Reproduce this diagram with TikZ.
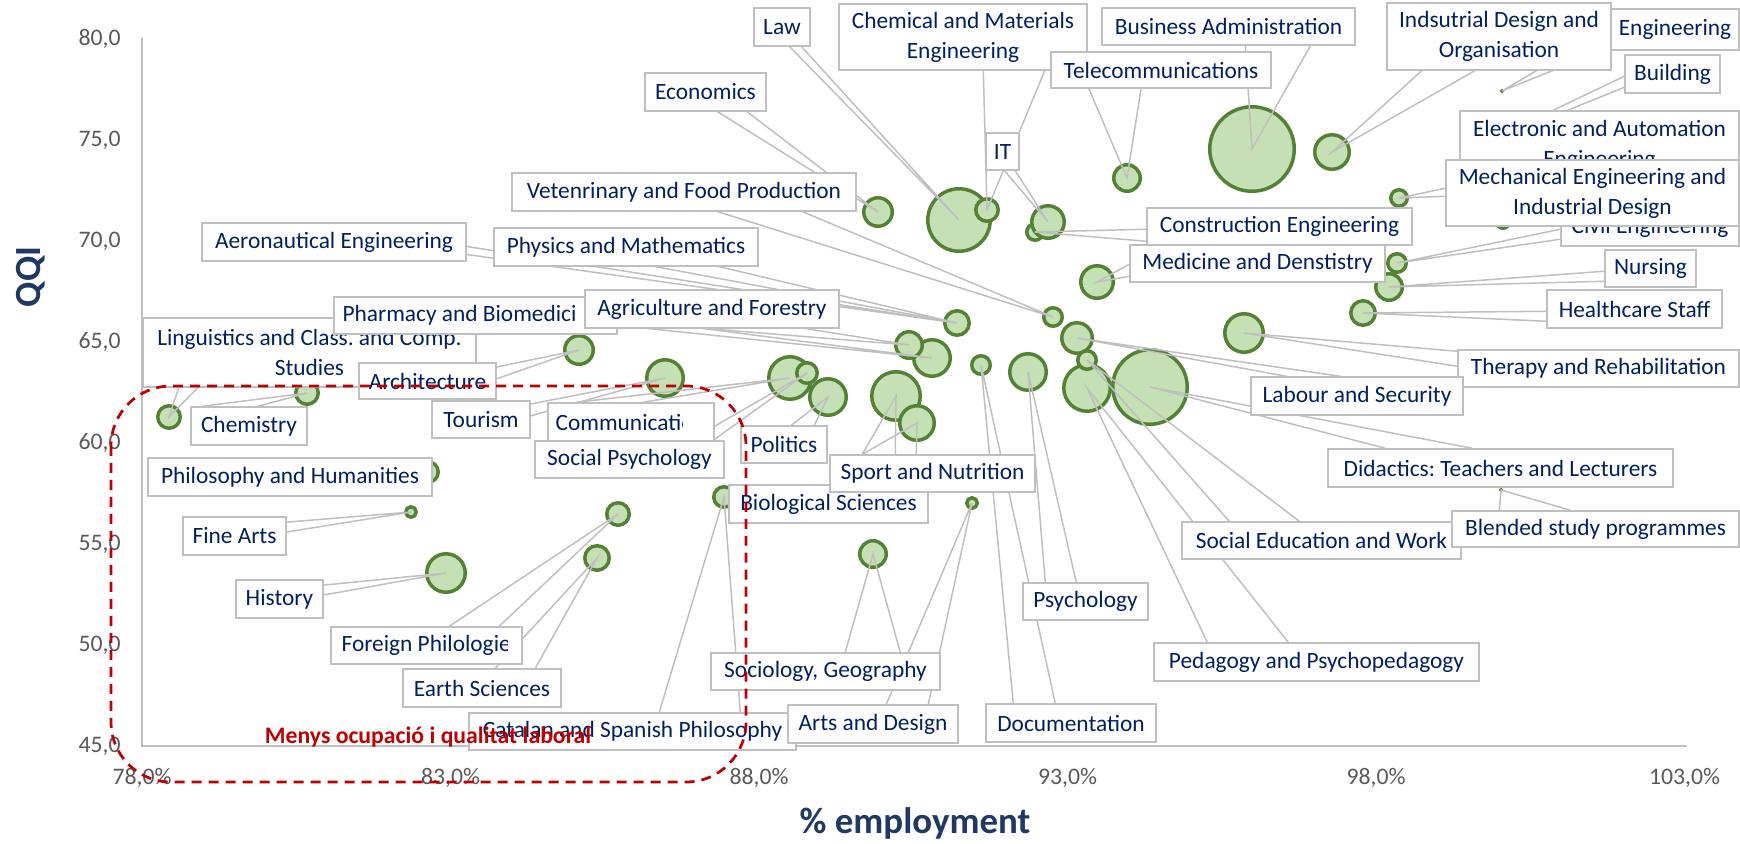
\documentclass[tikz,border=0pt]{standalone}
\usepackage{fontspec}
\setmainfont{Carlito}
\usetikzlibrary{calc}
\definecolor{bubfill}{RGB}{197,224,180}
\definecolor{bubline}{RGB}{84,130,53}
\definecolor{leadgray}{RGB}{191,191,191}
\definecolor{labtext}{RGB}{0,32,96}
\definecolor{tickgray}{RGB}{89,89,89}
\definecolor{titleblue}{RGB}{31,56,100}
\definecolor{darkred}{RGB}{192,0,0}
\pgfdeclarelayer{bubbles}
\pgfdeclarelayer{leaders}
\pgfsetlayers{bubbles,leaders,main}
\frenchspacing
\newcommand\labfont{\fontsize{13.3}{17}\selectfont}
\newcommand\labinsetL{6}
\newcommand\labinsetR{6}
\newcommand\labanchor{center}
\newcommand\labshift{0}
\tikzset{
    bub/.style={circle,draw=bubline,fill=bubfill,line width=0.07cm,inner sep=0pt},
    labbox/.style={draw=leadgray,fill=white,line width=0.03cm,inner sep=0pt},
    labtxt/.style={text=labtext,font=\labfont,align=center,inner sep=0pt},
    leader/.style={draw=leadgray,line width=0.03cm},
    axisline/.style={draw=leadgray,line width=0.035cm},
    ticklab/.style={text=tickgray,font=\fontsize{13.5}{16}\selectfont,inner sep=0pt},
    axistitle/.style={text=titleblue,font=\bfseries\fontsize{21}{25}\selectfont,inner sep=0pt},
    zone/.style={draw=darkred,line width=0.055cm,dash pattern=on 0.2cm off 0.14cm,rounded corners=1.2cm}
}
\newcommand\Bubble[5][]{% name, x, y, outer radius
    \begin{pgfonlayer}{bubbles}
        \node[bub,#1,minimum size={(2*#5-3.5)*0.02cm}] (#2) at (#3,#4) {};
    \end{pgfonlayer}
}
\newcommand\Callout[6]{% name, x1, y1, x2, y2, text
    \node[labbox,minimum width={(#4-#2)*0.02cm},minimum height={(#5-#3)*0.02cm}] (#1) at ({(#2+#4)/2},{(#3+#5)/2}) {};
    \begin{scope}
        \clip ($(#1.north west)+(\labinsetL,2)$) rectangle ($(#1.south east)-(\labinsetR,2)$);
        \node[labtxt,anchor=\labanchor] (#1Txt) at ($(#1.\labanchor)+(\labshift,0)$) {#6};
    \end{scope}
}
% text too long for its box: starts at the left, cut on the right
\newcommand\CutCallout[8]{% right inset, left shift, name, x1, y1, x2, y2, text
    \begingroup
    \renewcommand\labinsetR{#1}\renewcommand\labshift{#2}\renewcommand\labanchor{west}
    \Callout{#3}{#4}{#5}{#6}{#7}{#8}
    \endgroup
}
\newcommand\Leader[4]{% callout, bubble, base points from the callout's top left corner
    \begin{pgfonlayer}{leaders}
        \draw[leader] ($(#1.north west)+(#3)$) -- (#2.center) -- ($(#1.north west)+(#4)$);
    \end{pgfonlayer}
}

\begin{document}
\begin{tikzpicture}[x=0.02cm,y=-0.02cm]
    \useasboundingbox (0,0) rectangle (1740,843);
    % axes
    \coordinate (AxisTop) at (142,38);
    \coordinate (Origin) at (142,746);
    \coordinate (AxisEnd) at (1687,746);
    \begin{pgfonlayer}{bubbles}
        \draw[axisline] (AxisTop) -- (Origin) -- (AxisEnd);
    \end{pgfonlayer}
    \foreach \v in {45,50,...,80}
        \node[ticklab,anchor=east] (Y\v) at (121,{746-(\v-45)*20.2}) {\v,0};
    \foreach \v in {78,83,...,103}
        \node[ticklab] (X\v) at ({142+(\v-78)*61.7},778) {\v,0\%};
    \node[axistitle,rotate=90] (QQI) at (31,277) {QQI};
    \node[axistitle] (Employment) at (915,823) {\% employment};

    % bubbles
    \Bubble{LingPt}{169}{417}{13}
    \Bubble{ChemPt}{307}{393}{13}
    \Bubble{ArchPt}{579}{350}{16}
    \Bubble{TourPt}{665}{378}{20}
    \Bubble{PhilPt}{428}{472}{12}
    \Bubble{FinePt}{411}{512}{7}
    \Bubble{HistPt}{446}{573}{21}
    \Bubble{ForgPt}{618}{514}{13}
    \Bubble{EarthPt}{597}{558}{14}
    \Bubble{CatPt}{724}{497}{12}
    \Bubble{CommPt}{790}{378}{23}
    \Bubble{SocPsyPt}{807}{373}{12}
    \Bubble{PolPt}{828}{397}{20}
    \Bubble{SportPt}{896}{396}{26}
    \Bubble{NutrPt}{917}{423}{19}
    \Bubble{SociolPt}{873}{554}{15}
    \Bubble{ArtsPt}{972}{503}{7}
    \Bubble{DocPt}{981}{365}{11}
    \Bubble{PsyPt}{1028}{372}{20}
    \Bubble{PharmPt}{932}{358}{20}
    \Bubble{AgriPt}{909}{345}{15}
    \Bubble{PhysPt}{957}{323}{14}
    \Bubble{VetPt}{1053}{317}{11}
    \Bubble{LabPt}{1077}{338}{17}
    \Bubble{PedPt}{1087}{388}{25}
    \Bubble{SocEduPt}{1087}{360}{11}
    \Bubble{DidPt}{1150}{387}{39}
    \Bubble{MedPt}{1097}{282}{18}
    \Bubble{ConsPt}{1035}{232}{10}
    \Bubble{ITPt}{1048}{222}{18}
    \Bubble{LawPt}{959}{220}{33}
    \Bubble{ChemMatPt}{987}{210}{13}
    \Bubble{EconPt}{878}{212}{16}
    \Bubble{TelePt}{1127}{178}{15}
    \Bubble{BusPt}{1252}{149}{44}
    \Bubble{IndPt}{1332}{152}{19}
    \Bubble[line width=0.03cm]{EngPt}{1502}{91}{3}
    \Bubble{MechPt}{1399}{198}{10}
    \Bubble{ElecPt}{1503}{222}{8}
    \Bubble{BuildPt}{1470}{150}{5}
    \Bubble{CivilPt}{1397}{263}{11}
    \Bubble{NursPt}{1389}{287}{15}
    \Bubble{HealthPt}{1363}{313}{14}
    \Bubble{TherPt}{1244}{333}{21}
    \Bubble[line width=0.03cm]{BlendPt}{1501}{490}{3}

    % callouts, later ones cover earlier ones
    \Callout{Law}{754}{8}{810}{46}{Law}
    \Callout{ChemMat}{839}{4}{1087}{70}{Chemical and Materials\\Engineering}
    \Callout{Business}{1102}{8}{1355}{45}{Business Administration}
    \Callout{Engineering}{1611}{9}{1739}{50}{Engineering}
    \Callout{IndDesign}{1387}{3}{1611}{70}{Indsutrial Design and\\Organisation}
    \Callout{Economics}{645}{73}{766}{111}{Economics}
    \Callout{Telecom}{1051}{52}{1271}{88}{Telecommunications}
    \Callout{Building}{1625}{55}{1720}{93}{Building}
    \Callout{IT}{986}{133}{1019}{170}{IT}
    \Callout{Electronic}{1460}{111}{1739}{180}{Electronic and Automation\\Engineering}
    \Callout{Veterinary}{512}{173}{856}{211}{Vetenrinary and Food Production}
    \Callout{Civil}{1561}{208}{1739}{246}{Civil Engineering}
    \Callout{Mechanical}{1446}{160}{1739}{226}{Mechanical Engineering and\\Industrial Design}
    \Callout{Construction}{1147}{208}{1412}{245}{Construction Engineering}
    \Callout{Aeronautical}{202}{223}{466}{261}{Aeronautical Engineering}
    \Callout{Physics}{494}{228}{758}{266}{Physics and Mathematics}
    \Callout{Medicine}{1130}{245}{1385}{282}{Medicine and Denstistry}
    \Callout{Nursing}{1605}{250}{1696}{287}{Nursing}
    \Callout{Linguistics}{143}{318}{476}{387}{Linguistics and Class. and Comp.\\Studies}
    \CutCallout{42}{9}{Pharmacy}{334}{297}{617}{334}{Pharmacy and Biomedicine}
    \Callout{Agriculture}{585}{290}{839}{328}{Agriculture and Forestry}
    \Callout{Healthcare}{1547}{290}{1722}{328}{Healthcare Staff}
    \Callout{Therapy}{1458}{350}{1739}{387}{Therapy and Rehabilitation}
    \Callout{Architecture}{359}{363}{496}{399}{Architecture}
    \Callout{Chemistry}{191}{407}{307}{445}{Chemistry}
    \Callout{Labour}{1251}{377}{1463}{415}{Labour and Security}
    \Callout{Tourism}{432}{401}{530}{438}{Tourism}
    \CutCallout{32}{8}{Communication}{548}{403}{714}{441}{Communication}
    \Callout{SocPsych}{535}{441}{724}{478}{Social Psychology}
    \Callout{Politics}{741}{426}{827}{463}{Politics}
    \Callout{Philosophy}{148}{458}{432}{496}{Philosophy and Humanities}
    \Callout{Biological}{729}{485}{928}{523}{Biological Sciences}
    \Callout{Sport}{830}{455}{1035}{492}{Sport and Nutrition}
    \Callout{Didactics}{1328}{449}{1673}{487}{Didactics: Teachers and Lecturers}
    \Callout{FineArts}{183}{517}{286}{555}{Fine Arts}
    \Callout{SocEdu}{1182}{522}{1461}{559}{Social Education and Work}
    \Callout{Blended}{1452}{511}{1739}{547}{Blended study programmes}
    \Callout{History}{236}{580}{323}{618}{History}
    \Callout{Psychology}{1023}{583}{1148}{620}{Psychology}
    \CutCallout{15}{11}{Foreign}{331}{627}{522}{664}{Foreign Philologies}
    \Callout{Sociology}{711}{653}{940}{690}{Sociology, Geography}
    \Callout{Earth}{403}{669}{561}{707}{Earth Sciences}
    \Callout{Pedagogy}{1154}{643}{1479}{681}{Pedagogy and Psychopedagogy}
    \Callout{Catalan}{469}{713}{796}{750}{Catalan and Spanish Philosophy}
    \Callout{Arts}{788}{705}{958}{743}{Arts and Design}
    \Callout{Documentation}{986}{704}{1156}{742}{Documentation}

    % leaders
    \Leader{Law}{LawPt}{35,38}{47,38}
    \Leader{ChemMat}{ChemMatPt}{145,66}{207,66}
    \Leader{Business}{BusPt}{144,37}{210,37}
    \Leader{IndDesign}{IndPt}{37,67}{91,67}
    \Leader{Engineering}{EngPt}{0,19}{0,39}
    \Leader{Economics}{EconPt}{71,38}{101,38}
    \Leader{Telecom}{TelePt}{38,36}{91,36}
    \Leader{Building}{BuildPt}{0,22}{0,33}
    \Leader{IT}{ITPt}{18,37}{29,37}
    \Leader{Electronic}{ElecPt}{30,69}{60,69}
    \Leader{Veterinary}{VetPt}{202,38}{288,38}
    \Leader{Mechanical}{MechPt}{0,29}{0,37}
    \Leader{Construction}{ConsPt}{0,22}{0,34}
    \Leader{Civil}{CivilPt}{0,22}{0,32}
    \Leader{Aeronautical}{PhysPt}{264,24}{264,32}
    \Leader{Physics}{PhysPt}{155,38}{220,38}
    \Leader{Medicine}{MedPt}{0,20}{0,32}
    \Leader{Nursing}{NursPt}{0,22}{0,32}
    \Leader{Pharmacy}{PharmPt}{283,21}{283,29}
    \Leader{Agriculture}{AgriPt}{106,38}{213,38}
    \Leader{Healthcare}{HealthPt}{0,22}{0,32}
    \Leader{Linguistics}{LingPt}{37,69}{57,69}
    \Leader{Therapy}{TherPt}{0,2}{0,17}
    \Leader{Architecture}{ArchPt}{137,5}{137,17}
    \Leader{Chemistry}{ChemPt}{12,0}{68,0}
    \Leader{Labour}{LabPt}{36,0}{90,0}
    \Leader{Tourism}{TourPt}{98,4}{98,16}
    \Leader{Communication}{CommPt}{29,0}{96,0}
    \Leader{SocPsych}{SocPsyPt}{156,0}{179,0}
    \Leader{Politics}{PolPt}{51,0}{74,0}
    \Leader{Philosophy}{PhilPt}{284,10}{284,20}
    \Leader{Sport}{SportPt}{33,0}{66,0}
    \Leader{Sport}{NutrPt}{33,0}{87,0}
    \Leader{Didactics}{DidPt}{58,0}{145,0}
    \Leader{FineArts}{FinePt}{103,6}{103,16}
    \Leader{SocEdu}{SocEduPt}{48,0}{118,0}
    \Leader{Blended}{BlendPt}{48,0}{119,0}
    \Leader{History}{HistPt}{87,6}{87,16}
    \Leader{Psychology}{PsyPt}{23,0}{54,0}
    \Leader{Foreign}{ForgPt}{119,0}{169,0}
    \Leader{Sociology}{SociolPt}{135,0}{190,0}
    \Leader{Earth}{EarthPt}{93,0}{133,0}
    \Leader{Pedagogy}{PedPt}{54,0}{135,0}
    \Leader{Catalan}{CatPt}{191,0}{272,0}
    \Leader{Arts}{ArtsPt}{99,0}{141,0}
    \Leader{Documentation}{DocPt}{28,0}{70,0}

    % low employment zone
    \coordinate (ZoneNW) at (111,386);
    \coordinate (ZoneSE) at (746,782);
    \draw[zone] (ZoneNW) rectangle (ZoneSE);
    \node[text=darkred,font=\bfseries\fontsize{13.5}{16}\selectfont,inner sep=0pt] (LessJobs) at (428,737) {Menys ocupació i qualitat laboral};
\end{tikzpicture}
\end{document}
